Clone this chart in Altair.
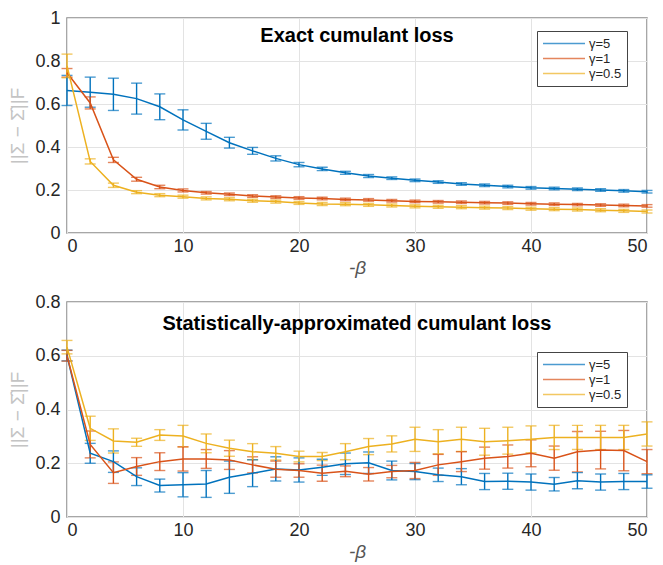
import altair as alt
import pandas as pd

beta = list(range(0, 51, 2))
series_names = ["γ=5", "γ=1", "γ=0.5"]
series_colors = ["#0072BD", "#D95319", "#EDB120"]
x_ticks = [0, 10, 20, 30, 40, 50]

# Top panel: exact cumulant loss
top_g5 = [0.663, 0.655, 0.645, 0.625, 0.587, 0.526, 0.473, 0.420, 0.382, 0.347, 0.318, 0.298, 0.280,
          0.265, 0.255, 0.245, 0.237, 0.228, 0.222, 0.216, 0.210, 0.207, 0.203, 0.200, 0.196, 0.192]
top_g5_err = [0.07, 0.07, 0.075, 0.072, 0.06, 0.047, 0.037, 0.025, 0.016, 0.012, 0.010, 0.008, 0.007,
              0.007, 0.006, 0.006, 0.006, 0.006, 0.006, 0.006, 0.006, 0.006, 0.006, 0.006, 0.006, 0.006]
top_g1 = [0.745, 0.605, 0.340, 0.250, 0.214, 0.198, 0.187, 0.180, 0.172, 0.167, 0.163, 0.160, 0.156,
          0.154, 0.150, 0.147, 0.145, 0.143, 0.141, 0.139, 0.136, 0.134, 0.132, 0.130, 0.128, 0.126]
top_g1_err = [0.02, 0.028, 0.012, 0.009, 0.008, 0.007, 0.006, 0.006, 0.006, 0.006, 0.006, 0.006, 0.006,
              0.006, 0.006, 0.006, 0.006, 0.006, 0.006, 0.006, 0.006, 0.006, 0.006, 0.006, 0.006, 0.006]
top_g05 = [0.777, 0.333, 0.222, 0.190, 0.176, 0.169, 0.161, 0.157, 0.150, 0.146, 0.140, 0.135, 0.134,
           0.131, 0.128, 0.124, 0.122, 0.120, 0.118, 0.116, 0.113, 0.111, 0.109, 0.106, 0.103, 0.100]
top_g05_err = [0.055, 0.012, 0.010, 0.007, 0.007, 0.007, 0.007, 0.007, 0.007, 0.007, 0.007, 0.007, 0.007,
               0.007, 0.007, 0.007, 0.007, 0.007, 0.007, 0.007, 0.007, 0.007, 0.007, 0.007, 0.007, 0.007]

# Bottom panel: statistically-approximated cumulant loss
bot_g5 = [0.601, 0.237, 0.206, 0.150, 0.117, 0.120, 0.123, 0.148, 0.163, 0.179, 0.175, 0.185, 0.198,
          0.202, 0.173, 0.169, 0.157, 0.150, 0.132, 0.133, 0.130, 0.122, 0.135, 0.130, 0.132, 0.132]
bot_g5_err = [0.02, 0.037, 0.04, 0.033, 0.024, 0.045, 0.05, 0.06, 0.05, 0.045, 0.045, 0.03, 0.04,
              0.04, 0.035, 0.03, 0.025, 0.03, 0.03, 0.03, 0.03, 0.025, 0.03, 0.03, 0.03, 0.025]
bot_g1 = [0.600, 0.270, 0.165, 0.188, 0.206, 0.216, 0.216, 0.212, 0.194, 0.178, 0.173, 0.163, 0.170,
          0.159, 0.169, 0.173, 0.194, 0.206, 0.219, 0.225, 0.237, 0.219, 0.243, 0.249, 0.247, 0.206]
bot_g1_err = [0.02, 0.05, 0.04, 0.033, 0.033, 0.045, 0.035, 0.035, 0.03, 0.03, 0.025, 0.03, 0.02,
              0.025, 0.023, 0.03, 0.039, 0.037, 0.041, 0.043, 0.05, 0.045, 0.075, 0.07, 0.075, 0.045]
bot_g05 = [0.632, 0.330, 0.283, 0.278, 0.305, 0.301, 0.274, 0.256, 0.243, 0.237, 0.225, 0.225, 0.243,
           0.262, 0.272, 0.289, 0.280, 0.289, 0.280, 0.284, 0.289, 0.296, 0.296, 0.296, 0.296, 0.309]
bot_g05_err = [0.025, 0.045, 0.045, 0.015, 0.02, 0.04, 0.035, 0.03, 0.03, 0.025, 0.02, 0.015, 0.03,
               0.03, 0.03, 0.045, 0.045, 0.045, 0.05, 0.05, 0.05, 0.045, 0.045, 0.045, 0.045, 0.045]

FONT = "Liberation Sans"
W = 580
H = 215
Y_TITLE = "||Σ − Σ̂||F"


def panel(data, title, ymax, yvals, title_y, legend_y):
    rows = []
    for name, (vals, errs) in zip(series_names, data):
        for b, v, e in zip(beta, vals, errs):
            rows.append({"beta": b, "val": v, "lo": v - e, "hi": v + e, "series": name})
    df = pd.DataFrame(rows)

    xaxis = alt.Axis(values=x_ticks, format="d", title="-β", titleFontStyle="italic")
    yaxis = alt.Axis(values=yvals, format="~g", title=Y_TITLE, titleColor="#c4c4c4",
                     titleFontSize=19, titlePadding=7, labelPadding=7)
    xs = alt.Scale(domain=[0, 50], nice=False)
    ys = alt.Scale(domain=[0, ymax], nice=False)
    cs = alt.Scale(domain=series_names, range=series_colors)
    leg = alt.Legend(orient="none", legendX=W - 110, legendY=legend_y, title=None,
                     symbolType="stroke", symbolSize=1764, symbolStrokeWidth=1.5,
                     labelFont=FONT, labelFontSize=13, labelColor="#262626",
                     strokeColor="#444444", fillColor="white", padding=5,
                     rowPadding=0, clipHeight=15, labelOffset=3)

    bars = alt.Chart(df).mark_errorbar(ticks=True, size=11, thickness=1.4).encode(
        x=alt.X("beta:Q", scale=xs, axis=xaxis),
        y=alt.Y("lo:Q", scale=ys, axis=yaxis),
        y2="hi:Q",
        color=alt.Color("series:N", scale=cs, sort=series_names, legend=leg),
    )
    lines = alt.Chart(df).mark_line(strokeWidth=1.5).encode(
        x=alt.X("beta:Q", scale=xs, axis=xaxis),
        y=alt.Y("val:Q", scale=ys, axis=yaxis),
        color=alt.Color("series:N", scale=cs, sort=series_names, legend=leg),
    )
    ttl = alt.Chart(pd.DataFrame({"t": [title]})).mark_text(
        font=FONT, fontSize=20, fontWeight="bold", color="black", baseline="middle"
    ).encode(text="t:N", x=alt.value(W / 2), y=alt.value(title_y))
    return alt.layer(bars, lines, ttl).properties(width=W, height=H)


top = panel([(top_g5, top_g5_err), (top_g1, top_g1_err), (top_g05, top_g05_err)],
            "Exact cumulant loss", 1.0, [0, 0.2, 0.4, 0.6, 0.8, 1.0], 18, 13)
bot = panel([(bot_g5, bot_g5_err), (bot_g1, bot_g1_err), (bot_g05, bot_g05_err)],
            "Statistically-approximated cumulant loss", 0.8, [0, 0.2, 0.4, 0.6, 0.8], 22, 50)

chart = alt.vconcat(top, bot, spacing=14).resolve_scale(color="independent").resolve_legend(
    color="independent"
).configure(padding=0).configure_view(stroke="#8a8a8a", strokeWidth=1.5).configure_axis(
    labelFont=FONT, labelFontSize=18, labelColor="#262626", labelPadding=4,
    titleFont=FONT, titleFontSize=19, titleFontWeight="normal", titleColor="#555555", titlePadding=3,
    grid=True, gridColor="#e3e3e3", gridWidth=1, domain=False, ticks=False,
)

chart.save("out.html", embed_options={"renderer": "svg", "actions": False})
